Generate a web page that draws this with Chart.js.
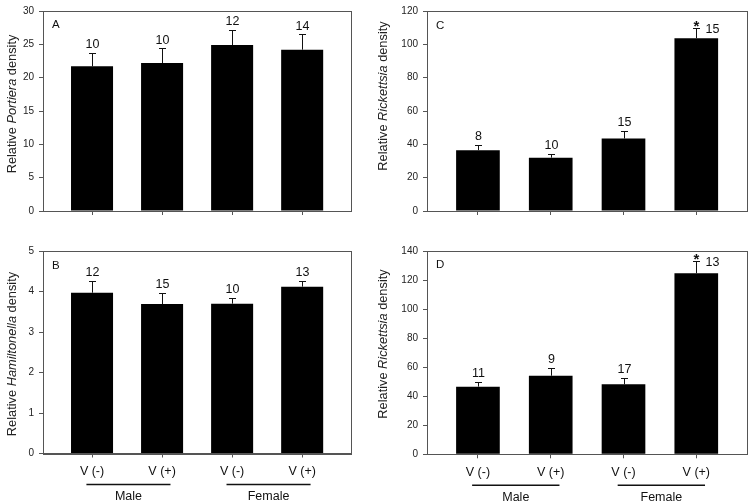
<!DOCTYPE html>
<html>
<head>
<meta charset="utf-8">
<script src="https://cdn.jsdelivr.net/npm/chart.js@4"></script>
<style>
  html, body { margin:0; padding:0; background:#fff; }
  body { width:751px; height:504px; position:relative; overflow:hidden; }
  canvas { position:absolute; }
</style>
</head>
<body>
<canvas id="cA" width="375" height="240" style="left:0;top:0"></canvas>
<canvas id="cC" width="376" height="240" style="left:375px;top:0"></canvas>
<canvas id="cB" width="375" height="264" style="left:0;top:240px"></canvas>
<canvas id="cD" width="376" height="264" style="left:375px;top:240px"></canvas>
<script>
// ---- data ----
const categories = ['V (-)', 'V (+)', 'V (-)', 'V (+)'];
const groups = ['Male', 'Female'];

const portieraMean = [21.7, 22.2, 24.9, 24.2];
const portieraErr  = [2.0, 2.2, 2.3, 2.3];
const portieraN    = [10, 10, 12, 14];

const hamiltonellaMean = [3.97, 3.69, 3.70, 4.12];
const hamiltonellaErr  = [0.30, 0.27, 0.15, 0.14];
const hamiltonellaN    = [12, 15, 10, 13];

const rickettsiaCMean = [36.5, 32.0, 43.5, 103.7];
const rickettsiaCErr  = [3.3, 2.5, 4.7, 6.1];
const rickettsiaCN    = [8, 10, 15, 15];
const rickettsiaCSig  = [false, false, false, true];

const rickettsiaDMean = [46.6, 54.1, 48.2, 124.7];
const rickettsiaDErr  = [3.4, 5.6, 4.6, 8.6];
const rickettsiaDN    = [11, 9, 17, 13];
const rickettsiaDSig  = [false, false, false, true];

const yTicksA = [0, 5, 10, 15, 20, 25, 30];
const yTicksB = [0, 1, 2, 3, 4, 5];
const yTicksC = [0, 20, 40, 60, 80, 100, 120];
const yTicksD = [0, 20, 40, 60, 80, 100, 120, 140];

const FONT = "'Liberation Sans', Arial, sans-serif";
const FRAME = '#555';

function makePanel(id, cfg) {
  const canvas = document.getElementById(id);
  const idx = cfg.mean.map((_, i) => i);
  const panelPlugin = {
    id: 'panel_' + id,
    afterDatasetsDraw(chart) {
      const ctx = chart.ctx;
      const xs = chart.scales.x, ys = chart.scales.y;
      const area = chart.chartArea;
      const meta = chart.getDatasetMeta(0);
      ctx.save();
      // frame
      ctx.strokeStyle = FRAME;
      ctx.lineWidth = 1;
      ctx.strokeRect(Math.round(area.left) + 0.5, Math.round(area.top) + 0.5,
                     Math.round(area.right - area.left), Math.round(area.bottom - area.top));
      // error bars + n labels
      meta.data.forEach((bar, i) => {
        const yTopV = cfg.mean[i] + cfg.err[i];
        const yTop = ys.getPixelForValue(yTopV);
        const x = Math.round(bar.x) + 0.5;
        ctx.strokeStyle = '#111';
        ctx.lineWidth = 1;
        ctx.beginPath();
        ctx.moveTo(x, bar.y);
        ctx.lineTo(x, Math.round(yTop) + 0.5);
        ctx.moveTo(x - 3.5, Math.round(yTop) + 0.5);
        ctx.lineTo(x + 3.5, Math.round(yTop) + 0.5);
        ctx.stroke();
        ctx.fillStyle = '#111';
        if (cfg.sig && cfg.sig[i]) {
          ctx.font = 'bold 15px ' + FONT;
          ctx.textAlign = 'center';
          ctx.textBaseline = 'middle';
          ctx.fillText('*', x, yTop - 1);
          ctx.font = '12.5px ' + FONT;
          ctx.textAlign = 'left';
          ctx.textBaseline = 'middle';
          ctx.fillText(String(cfg.n[i]), x + 9, yTop + 2);
        } else {
          ctx.font = '12.5px ' + FONT;
          ctx.textAlign = 'center';
          ctx.textBaseline = 'bottom';
          ctx.fillText(String(cfg.n[i]), x, yTop - 2);
        }
      });
      // panel letter
      ctx.font = '11.5px ' + FONT;
      ctx.textAlign = 'left';
      ctx.textBaseline = 'middle';
      ctx.fillStyle = '#111';
      ctx.fillText(cfg.letter, area.left + 9, area.top + cfg.letterDy);
      // group lines
      if (cfg.showX) {
        groups.forEach((g, gi) => {
          const x0 = xs.getPixelForValue(gi * 2 - 0.08);
          const x1 = xs.getPixelForValue(gi * 2 + 1.12);
          const ly = area.bottom + 31;
          ctx.strokeStyle = '#111';
          ctx.lineWidth = 1.5;
          ctx.beginPath();
          ctx.moveTo(x0, ly);
          ctx.lineTo(x1, ly);
          ctx.stroke();
          ctx.font = '12.5px ' + FONT;
          ctx.textAlign = 'center';
          ctx.textBaseline = 'middle';
          ctx.fillText(g, (x0 + x1) / 2, area.bottom + 43);
        });
      }
      // y title with italic genus
      ctx.translate(cfg.titleX, cfg.titleY);
      ctx.rotate(-Math.PI / 2);
      ctx.textBaseline = 'middle';
      ctx.textAlign = 'left';
      const parts = cfg.title;
      let total = 0;
      parts.forEach(p => { ctx.font = (p.i ? 'italic ' : '') + '12.8px ' + FONT; total += ctx.measureText(p.t).width; });
      let cx = -total / 2;
      ctx.fillStyle = '#222';
      parts.forEach(p => {
        ctx.font = (p.i ? 'italic ' : '') + '12.8px ' + FONT;
        ctx.fillText(p.t, cx, 0);
        cx += ctx.measureText(p.t).width;
      });
      ctx.restore();
    }
  };

  return new Chart(canvas, {
    type: 'bar',
    data: {
      datasets: [{
        data: idx.map(i => ({ x: i, y: cfg.mean[i] })),
        backgroundColor: '#000',
        borderColor: '#333',
        borderWidth: 0,
        barPercentage: 0.6,
        categoryPercentage: 1.0
      }]
    },
    options: {
      responsive: false,
      devicePixelRatio: 1,
      animation: false,
      events: [],
      layout: { padding: { top: cfg.padTop, right: cfg.padRight, left: 0, bottom: 0 } },
      plugins: { legend: { display: false }, tooltip: { enabled: false }, title: { display: false } },
      scales: {
        x: {
          type: 'linear',
          offset: false,
          min: -0.7,
          max: 3.69,
          afterBuildTicks(scale) { scale.ticks = idx.map(v => ({ value: v })); },
          afterFit(scale) { scale.height = cfg.xHeight; },
          grid: { offset: false, drawOnChartArea: false, drawTicks: true, tickLength: 4, color: FRAME },
          border: { display: true, color: FRAME },
          ticks: {
            autoSkip: false,
            maxRotation: 0,
            padding: 7,
            color: '#111',
            font: { family: FONT, size: 12.5 },
            callback: (v) => cfg.showX ? categories[v] : ''
          }
        },
        y: {
          min: 0,
          max: cfg.yTicks[cfg.yTicks.length - 1],
          afterBuildTicks(scale) { scale.ticks = cfg.yTicks.map(v => ({ value: v })); },
          afterFit(scale) { scale.width = cfg.yWidth; },
          grid: { drawOnChartArea: false, drawTicks: true, tickLength: 4, color: FRAME },
          border: { display: true, color: FRAME },
          ticks: { padding: 5, color: '#222', font: { family: FONT, size: 10 } },
          title: { display: false }
        }
      }
    },
    plugins: [panelPlugin]
  });
}

makePanel('cA', {
  mean: portieraMean, err: portieraErr, n: portieraN, yTicks: yTicksA,
  letter: 'A', letterDy: 14, showX: false,
  padTop: 7, padRight: 24.5, yWidth: 43, xHeight: 29,
  titleX: 12, titleY: 104,
  title: [{ t: 'Relative ', i: false }, { t: 'Portiera', i: true }, { t: ' density', i: false }]
});
makePanel('cC', {
  mean: rickettsiaCMean, err: rickettsiaCErr, n: rickettsiaCN, sig: rickettsiaCSig, yTicks: yTicksC,
  letter: 'C', letterDy: 15, showX: false,
  padTop: 7, padRight: 4.5, yWidth: 52, xHeight: 29,
  titleX: 8, titleY: 96,
  title: [{ t: 'Relative ', i: false }, { t: 'Rickettsia', i: true }, { t: ' density', i: false }]
});
makePanel('cB', {
  mean: hamiltonellaMean, err: hamiltonellaErr, n: hamiltonellaN, yTicks: yTicksB,
  letter: 'B', letterDy: 15, showX: true,
  padTop: 10, padRight: 24.5, yWidth: 43, xHeight: 50.5,
  titleX: 12, titleY: 114,
  title: [{ t: 'Relative ', i: false }, { t: 'Hamiltonella', i: true }, { t: ' density', i: false }]
});
makePanel('cD', {
  mean: rickettsiaDMean, err: rickettsiaDErr, n: rickettsiaDN, sig: rickettsiaDSig, yTicks: yTicksD,
  letter: 'D', letterDy: 14, showX: true,
  padTop: 11, padRight: 4.5, yWidth: 52, xHeight: 49.7,
  titleX: 8, titleY: 104,
  title: [{ t: 'Relative ', i: false }, { t: 'Rickettsia', i: true }, { t: ' density', i: false }]
});
</script>
</body>
</html>
